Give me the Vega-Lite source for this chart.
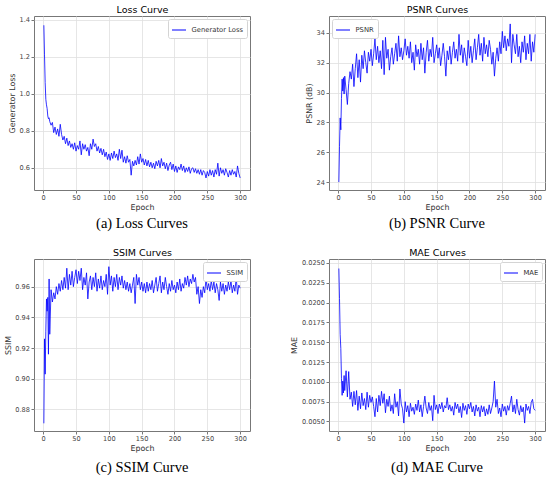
{
  "$schema": "https://vega.github.io/schema/vega-lite/v6.json",
  "background": "white",
  "padding": {"left": 3, "top": 3, "right": 5, "bottom": 2},
  "config": {
    "view": {"stroke": "#777777", "strokeWidth": 1},
    "font": "DejaVu Sans",
    "axis": {
      "labelFont": "DejaVu Sans", "labelFontSize": 6.6, "labelColor": "#444444", "labelPadding": 1.5,
      "titleFont": "DejaVu Sans", "titleFontSize": 7.9, "titleFontWeight": "normal", "titleColor": "#333333", "titlePadding": 2.5,
      "gridColor": "#e0e0e0", "gridWidth": 0.8, "domain": false, "tickColor": "#777777", "tickSize": 3
    },
    "legend": {
      "symbolType": "stroke", "symbolSize": 196, "symbolStrokeWidth": 1,
      "labelFont": "DejaVu Sans", "labelFontSize": 6.8, "labelColor": "#333333", "labelOffset": 5,
      "strokeColor": "#d4d4d4", "fillColor": "white", "padding": 3.5, "offset": 3, "cornerRadius": 2
    },
    "title": {"font": "Liberation Serif", "fontSize": 14.5, "fontWeight": "normal", "color": "black", "anchor": "middle"}
  },
  "data": {"values": [
    {"e":1,"l":1.37,"p":24.0,"s":0.871,"m":0.0243},
    {"e":2,"l":1.21,"p":26.4,"s":0.926,"m":0.0205},
    {"e":3,"l":1.06,"p":28.3,"s":0.903,"m":0.0160},
    {"e":4,"l":0.97,"p":27.5,"s":0.931,"m":0.0142},
    {"e":5,"l":0.94,"p":29.6,"s":0.952,"m":0.0104},
    {"e":6,"l":0.92,"p":30.9,"s":0.944,"m":0.0083},
    {"e":7,"l":0.88,"p":30.1,"s":0.953,"m":0.0101},
    {"e":8,"l":0.865,"p":31.0,"s":0.916,"m":0.0086},
    {"e":9,"l":0.87,"p":29.9,"s":0.965,"m":0.0108},
    {"e":10,"l":0.85,"p":31.1,"s":0.929,"m":0.0089},
    {"e":12,"l":0.83,"p":30.2,"s":0.958,"m":0.0114},
    {"e":14,"l":0.845,"p":29.2,"s":0.950,"m":0.0081},
    {"e":16,"l":0.79,"p":30.6,"s":0.956,"m":0.0113},
    {"e":18,"l":0.82,"p":31.4,"s":0.952,"m":0.0078},
    {"e":20,"l":0.78,"p":30.9,"s":0.960,"m":0.0087},
    {"e":22,"l":0.81,"p":31.9,"s":0.955,"m":0.0069},
    {"e":24,"l":0.77,"p":30.4,"s":0.962,"m":0.0088},
    {"e":26,"l":0.835,"p":31.6,"s":0.957,"m":0.0071},
    {"e":28,"l":0.78,"p":32.6,"s":0.964,"m":0.0089},
    {"e":30,"l":0.75,"p":31.0,"s":0.958,"m":0.0064},
    {"e":32,"l":0.77,"p":32.2,"s":0.966,"m":0.0082},
    {"e":34,"l":0.73,"p":30.7,"s":0.959,"m":0.0066},
    {"e":36,"l":0.76,"p":32.5,"s":0.972,"m":0.0086},
    {"e":38,"l":0.72,"p":31.6,"s":0.958,"m":0.0070},
    {"e":40,"l":0.745,"p":32.8,"s":0.968,"m":0.0079},
    {"e":42,"l":0.71,"p":32.0,"s":0.961,"m":0.0065},
    {"e":44,"l":0.73,"p":31.3,"s":0.970,"m":0.0087},
    {"e":46,"l":0.70,"p":32.7,"s":0.960,"m":0.0068},
    {"e":48,"l":0.735,"p":32.1,"s":0.966,"m":0.0083},
    {"e":50,"l":0.69,"p":32.9,"s":0.971,"m":0.0074},
    {"e":52,"l":0.72,"p":31.8,"s":0.962,"m":0.0081},
    {"e":54,"l":0.70,"p":32.6,"s":0.970,"m":0.0069},
    {"e":56,"l":0.745,"p":33.6,"s":0.964,"m":0.0056},
    {"e":58,"l":0.67,"p":32.2,"s":0.972,"m":0.0079},
    {"e":60,"l":0.73,"p":33.1,"s":0.958,"m":0.0062},
    {"e":62,"l":0.70,"p":32.0,"s":0.966,"m":0.0083},
    {"e":64,"l":0.725,"p":32.8,"s":0.961,"m":0.0070},
    {"e":66,"l":0.69,"p":31.6,"s":0.969,"m":0.0088},
    {"e":68,"l":0.71,"p":33.5,"s":0.952,"m":0.0073},
    {"e":70,"l":0.665,"p":31.2,"s":0.963,"m":0.0085},
    {"e":72,"l":0.73,"p":33.7,"s":0.967,"m":0.0061},
    {"e":74,"l":0.70,"p":32.3,"s":0.958,"m":0.0078},
    {"e":76,"l":0.755,"p":32.9,"s":0.966,"m":0.0069},
    {"e":78,"l":0.715,"p":31.5,"s":0.960,"m":0.0082},
    {"e":80,"l":0.73,"p":32.4,"s":0.969,"m":0.0063},
    {"e":82,"l":0.69,"p":33.0,"s":0.957,"m":0.0071},
    {"e":84,"l":0.715,"p":31.9,"s":0.965,"m":0.0060},
    {"e":86,"l":0.68,"p":32.6,"s":0.959,"m":0.0085},
    {"e":88,"l":0.705,"p":33.3,"s":0.967,"m":0.0068},
    {"e":90,"l":0.67,"p":32.1,"s":0.958,"m":0.0075},
    {"e":92,"l":0.70,"p":33.8,"s":0.964,"m":0.0057},
    {"e":94,"l":0.66,"p":32.4,"s":0.960,"m":0.0091},
    {"e":96,"l":0.685,"p":33.0,"s":0.968,"m":0.0072},
    {"e":98,"l":0.645,"p":32.2,"s":0.955,"m":0.0066},
    {"e":100,"l":0.675,"p":32.8,"s":0.973,"m":0.0048},
    {"e":102,"l":0.64,"p":33.6,"s":0.961,"m":0.0075},
    {"e":104,"l":0.68,"p":32.5,"s":0.967,"m":0.0062},
    {"e":106,"l":0.65,"p":33.1,"s":0.957,"m":0.0070},
    {"e":108,"l":0.69,"p":32.3,"s":0.966,"m":0.0056},
    {"e":110,"l":0.655,"p":33.4,"s":0.960,"m":0.0073},
    {"e":112,"l":0.675,"p":32.0,"s":0.968,"m":0.0063},
    {"e":114,"l":0.64,"p":32.7,"s":0.958,"m":0.0068},
    {"e":116,"l":0.70,"p":31.5,"s":0.966,"m":0.0059},
    {"e":118,"l":0.65,"p":33.2,"s":0.961,"m":0.0072},
    {"e":120,"l":0.695,"p":32.4,"s":0.967,"m":0.0064},
    {"e":122,"l":0.63,"p":32.9,"s":0.959,"m":0.0077},
    {"e":124,"l":0.66,"p":31.9,"s":0.964,"m":0.0062},
    {"e":126,"l":0.625,"p":33.3,"s":0.958,"m":0.0071},
    {"e":128,"l":0.665,"p":32.2,"s":0.963,"m":0.0056},
    {"e":130,"l":0.63,"p":33.0,"s":0.957,"m":0.0069},
    {"e":132,"l":0.645,"p":31.3,"s":0.962,"m":0.0082},
    {"e":134,"l":0.56,"p":32.7,"s":0.956,"m":0.0067},
    {"e":136,"l":0.635,"p":33.5,"s":0.961,"m":0.0060},
    {"e":138,"l":0.61,"p":32.1,"s":0.966,"m":0.0074},
    {"e":140,"l":0.64,"p":32.9,"s":0.949,"m":0.0064},
    {"e":142,"l":0.615,"p":32.4,"s":0.968,"m":0.0070},
    {"e":144,"l":0.66,"p":33.7,"s":0.961,"m":0.0051},
    {"e":146,"l":0.62,"p":32.0,"s":0.966,"m":0.0083},
    {"e":148,"l":0.675,"p":32.6,"s":0.958,"m":0.0065},
    {"e":150,"l":0.63,"p":33.2,"s":0.963,"m":0.0071},
    {"e":152,"l":0.65,"p":32.3,"s":0.957,"m":0.0060},
    {"e":154,"l":0.615,"p":33.0,"s":0.962,"m":0.0072},
    {"e":156,"l":0.645,"p":31.8,"s":0.956,"m":0.0066},
    {"e":158,"l":0.61,"p":32.5,"s":0.963,"m":0.0074},
    {"e":160,"l":0.64,"p":33.3,"s":0.957,"m":0.0062},
    {"e":162,"l":0.605,"p":32.4,"s":0.962,"m":0.0070},
    {"e":164,"l":0.63,"p":31.1,"s":0.958,"m":0.0067},
    {"e":166,"l":0.60,"p":32.8,"s":0.964,"m":0.0080},
    {"e":168,"l":0.625,"p":32.2,"s":0.956,"m":0.0065},
    {"e":170,"l":0.595,"p":33.1,"s":0.961,"m":0.0071},
    {"e":172,"l":0.635,"p":31.9,"s":0.966,"m":0.0063},
    {"e":174,"l":0.61,"p":32.7,"s":0.957,"m":0.0069},
    {"e":176,"l":0.64,"p":33.4,"s":0.962,"m":0.0058},
    {"e":178,"l":0.60,"p":32.3,"s":0.967,"m":0.0074},
    {"e":180,"l":0.65,"p":32.9,"s":0.956,"m":0.0066},
    {"e":182,"l":0.61,"p":32.1,"s":0.963,"m":0.0072},
    {"e":184,"l":0.63,"p":33.9,"s":0.958,"m":0.0061},
    {"e":186,"l":0.595,"p":32.5,"s":0.966,"m":0.0069},
    {"e":188,"l":0.625,"p":33.2,"s":0.960,"m":0.0055},
    {"e":190,"l":0.585,"p":32.0,"s":0.955,"m":0.0073},
    {"e":192,"l":0.615,"p":33.0,"s":0.962,"m":0.0064},
    {"e":194,"l":0.63,"p":32.4,"s":0.957,"m":0.0070},
    {"e":196,"l":0.59,"p":31.8,"s":0.964,"m":0.0059},
    {"e":198,"l":0.62,"p":33.5,"s":0.958,"m":0.0072},
    {"e":200,"l":0.58,"p":32.3,"s":0.961,"m":0.0066},
    {"e":202,"l":0.61,"p":33.1,"s":0.956,"m":0.0074},
    {"e":204,"l":0.575,"p":32.0,"s":0.963,"m":0.0062},
    {"e":206,"l":0.605,"p":32.8,"s":0.958,"m":0.0069},
    {"e":208,"l":0.59,"p":33.6,"s":0.965,"m":0.0057},
    {"e":210,"l":0.62,"p":32.2,"s":0.957,"m":0.0071},
    {"e":212,"l":0.585,"p":33.0,"s":0.962,"m":0.0063},
    {"e":214,"l":0.61,"p":33.9,"s":0.959,"m":0.0068},
    {"e":216,"l":0.575,"p":32.5,"s":0.966,"m":0.0056},
    {"e":218,"l":0.60,"p":33.3,"s":0.961,"m":0.0070},
    {"e":220,"l":0.58,"p":32.1,"s":0.967,"m":0.0062},
    {"e":222,"l":0.605,"p":33.7,"s":0.960,"m":0.0069},
    {"e":224,"l":0.57,"p":32.6,"s":0.965,"m":0.0057},
    {"e":226,"l":0.595,"p":33.2,"s":0.962,"m":0.0066},
    {"e":228,"l":0.60,"p":32.4,"s":0.968,"m":0.0059},
    {"e":230,"l":0.575,"p":33.5,"s":0.963,"m":0.0071},
    {"e":232,"l":0.595,"p":32.9,"s":0.966,"m":0.0060},
    {"e":234,"l":0.57,"p":31.9,"s":0.955,"m":0.0067},
    {"e":236,"l":0.59,"p":32.7,"s":0.960,"m":0.0075},
    {"e":238,"l":0.565,"p":31.1,"s":0.949,"m":0.0101},
    {"e":240,"l":0.59,"p":32.3,"s":0.958,"m":0.0068},
    {"e":242,"l":0.56,"p":33.0,"s":0.953,"m":0.0078},
    {"e":244,"l":0.585,"p":32.1,"s":0.960,"m":0.0060},
    {"e":246,"l":0.575,"p":33.4,"s":0.956,"m":0.0067},
    {"e":248,"l":0.545,"p":32.6,"s":0.965,"m":0.0056},
    {"e":250,"l":0.58,"p":34.1,"s":0.958,"m":0.0072},
    {"e":252,"l":0.555,"p":33.0,"s":0.962,"m":0.0063},
    {"e":254,"l":0.59,"p":33.8,"s":0.957,"m":0.0069},
    {"e":256,"l":0.56,"p":32.8,"s":0.964,"m":0.0058},
    {"e":258,"l":0.585,"p":33.6,"s":0.958,"m":0.0070},
    {"e":260,"l":0.55,"p":33.1,"s":0.963,"m":0.0064},
    {"e":262,"l":0.59,"p":34.6,"s":0.956,"m":0.0073},
    {"e":264,"l":0.565,"p":32.0,"s":0.962,"m":0.0082},
    {"e":266,"l":0.625,"p":33.9,"s":0.958,"m":0.0062},
    {"e":268,"l":0.555,"p":33.2,"s":0.951,"m":0.0071},
    {"e":270,"l":0.60,"p":32.6,"s":0.963,"m":0.0060},
    {"e":272,"l":0.57,"p":33.9,"s":0.957,"m":0.0078},
    {"e":274,"l":0.59,"p":32.4,"s":0.962,"m":0.0065},
    {"e":276,"l":0.56,"p":33.1,"s":0.955,"m":0.0058},
    {"e":278,"l":0.595,"p":32.0,"s":0.961,"m":0.0070},
    {"e":280,"l":0.575,"p":33.4,"s":0.957,"m":0.0062},
    {"e":282,"l":0.55,"p":32.7,"s":0.963,"m":0.0068},
    {"e":284,"l":0.585,"p":33.8,"s":0.958,"m":0.0048},
    {"e":286,"l":0.56,"p":32.2,"s":0.964,"m":0.0072},
    {"e":288,"l":0.59,"p":33.3,"s":0.956,"m":0.0064},
    {"e":290,"l":0.565,"p":32.6,"s":0.961,"m":0.0069},
    {"e":292,"l":0.58,"p":33.9,"s":0.957,"m":0.0060},
    {"e":294,"l":0.55,"p":32.1,"s":0.966,"m":0.0074},
    {"e":296,"l":0.61,"p":33.4,"s":0.955,"m":0.0078},
    {"e":298,"l":0.57,"p":32.7,"s":0.961,"m":0.0066},
    {"e":300,"l":0.545,"p":33.9,"s":0.959,"m":0.0064}
  ]},
  "columns": 2,
  "bounds": "flush",
  "spacing": {"row": 69, "column": 79},
  "resolve": {"scale": {"color": "independent"}},
  "concat": [
    {
      "width": 216, "height": 174,
      "title": {"text": "(a) Loss Curves", "orient": "bottom", "offset": 5},
      "layer": [
        {
          "mark": {"type": "line", "strokeWidth": 0.8},
          "encoding": {
            "x": {"field": "e", "type": "quantitative", "scale": {"domain": [-14, 315], "nice": false, "zero": false},
                  "axis": {"title": "Epoch", "values": [0, 50, 100, 150, 200, 250, 300]}},
            "y": {"field": "l", "type": "quantitative", "scale": {"domain": [0.48, 1.42], "nice": false, "zero": false},
                  "axis": {"title": "Generator Loss", "values": [0.6, 0.8, 1.0, 1.2, 1.4], "format": ".1f"}},
            "color": {"datum": "Generator Loss", "scale": {"range": ["#0000ff"]}, "legend": {"title": null, "orient": "top-right"}}
          }
        },
        {
          "mark": {"type": "line", "opacity": 0},
          "encoding": {
            "x": {"field": "e", "type": "quantitative",
                  "axis": {"orient": "top", "title": "Loss Curve", "labels": false, "ticks": false, "domain": false, "grid": false,
                           "titleFontSize": 9.5, "titleColor": "black", "titlePadding": 2}}
          }
        }
      ],
      "resolve": {"axis": {"x": "independent"}}
    },
    {
      "width": 216, "height": 174,
      "title": {"text": "(b) PSNR Curve", "orient": "bottom", "offset": 5},
      "layer": [
        {
          "mark": {"type": "line", "strokeWidth": 0.8},
          "encoding": {
            "x": {"field": "e", "type": "quantitative", "scale": {"domain": [-14, 315], "nice": false, "zero": false},
                  "axis": {"title": "Epoch", "values": [0, 50, 100, 150, 200, 250, 300]}},
            "y": {"field": "p", "type": "quantitative", "scale": {"domain": [23.47, 35.13], "nice": false, "zero": false},
                  "axis": {"title": "PSNR (dB)", "values": [24, 26, 28, 30, 32, 34], "format": "d"}},
            "color": {"datum": "PSNR", "scale": {"range": ["#0000ff"]}, "legend": {"title": null, "orient": "top-left"}}
          }
        },
        {
          "mark": {"type": "line", "opacity": 0},
          "encoding": {
            "x": {"field": "e", "type": "quantitative",
                  "axis": {"orient": "top", "title": "PSNR Curves", "labels": false, "ticks": false, "domain": false, "grid": false,
                           "titleFontSize": 9.5, "titleColor": "black", "titlePadding": 2}}
          }
        }
      ],
      "resolve": {"axis": {"x": "independent"}}
    },
    {
      "width": 216, "height": 172,
      "title": {"text": "(c) SSIM Curve", "orient": "bottom", "offset": 8},
      "layer": [
        {
          "mark": {"type": "line", "strokeWidth": 0.8},
          "encoding": {
            "x": {"field": "e", "type": "quantitative", "scale": {"domain": [-14, 315], "nice": false, "zero": false},
                  "axis": {"title": "Epoch", "values": [0, 50, 100, 150, 200, 250, 300]}},
            "y": {"field": "s", "type": "quantitative", "scale": {"domain": [0.866, 0.978], "nice": false, "zero": false},
                  "axis": {"title": "SSIM", "values": [0.88, 0.9, 0.92, 0.94, 0.96], "format": ".2f"}},
            "color": {"datum": "SSIM", "scale": {"range": ["#0000ff"]}, "legend": {"title": null, "orient": "top-right"}}
          }
        },
        {
          "mark": {"type": "line", "opacity": 0},
          "encoding": {
            "x": {"field": "e", "type": "quantitative",
                  "axis": {"orient": "top", "title": "SSIM Curves", "labels": false, "ticks": false, "domain": false, "grid": false,
                           "titleFontSize": 9.5, "titleColor": "black", "titlePadding": 2}}
          }
        }
      ],
      "resolve": {"axis": {"x": "independent"}}
    },
    {
      "width": 216, "height": 172,
      "title": {"text": "(d) MAE Curve", "orient": "bottom", "offset": 8},
      "layer": [
        {
          "mark": {"type": "line", "strokeWidth": 0.8},
          "encoding": {
            "x": {"field": "e", "type": "quantitative", "scale": {"domain": [-14, 315], "nice": false, "zero": false},
                  "axis": {"title": "Epoch", "values": [0, 50, 100, 150, 200, 250, 300]}},
            "y": {"field": "m", "type": "quantitative", "scale": {"domain": [0.0038, 0.0255], "nice": false, "zero": false},
                  "axis": {"title": "MAE", "values": [0.005, 0.0075, 0.01, 0.0125, 0.015, 0.0175, 0.02, 0.0225, 0.025], "format": ".4f"}},
            "color": {"datum": "MAE", "scale": {"range": ["#0000ff"]}, "legend": {"title": null, "orient": "top-right"}}
          }
        },
        {
          "mark": {"type": "line", "opacity": 0},
          "encoding": {
            "x": {"field": "e", "type": "quantitative",
                  "axis": {"orient": "top", "title": "MAE Curves", "labels": false, "ticks": false, "domain": false, "grid": false,
                           "titleFontSize": 9.5, "titleColor": "black", "titlePadding": 2}}
          }
        }
      ],
      "resolve": {"axis": {"x": "independent"}}
    }
  ]
}
